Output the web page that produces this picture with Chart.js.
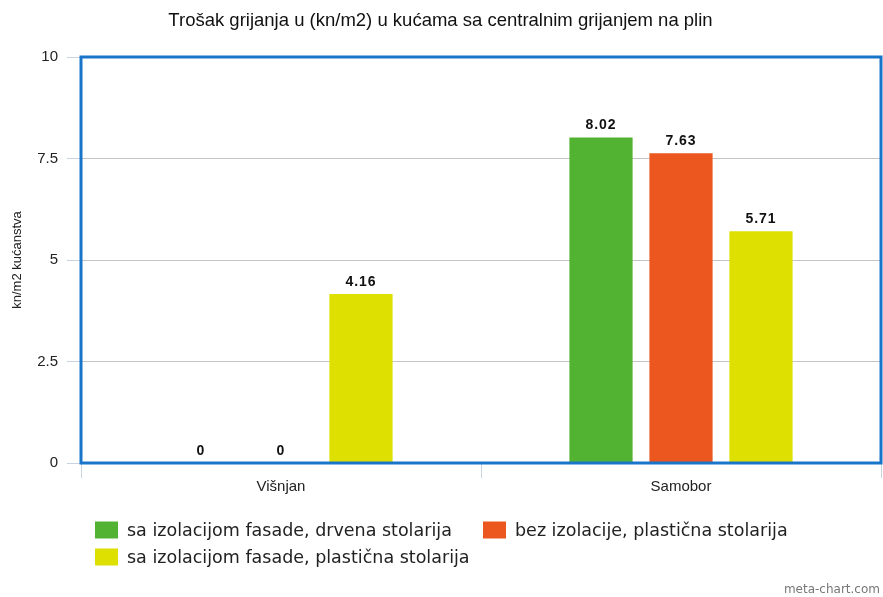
<!DOCTYPE html>
<html>
<head>
<meta charset="utf-8">
<script src="https://cdn.jsdelivr.net/npm/chart.js@4/dist/chart.umd.min.js"></script>
<style>
  html, body { margin: 0; padding: 0; background: #fff; }
  #wrap { width: 883px; height: 597px; }
</style>
</head>
<body>
<div id="wrap"><canvas id="heatChart" width="883" height="597"></canvas></div>
<script>
const categories = ["Višnjan", "Samobor"];
const seriesNames = [
  "sa izolacijom fasade, drvena stolarija",
  "bez izolacije, plastična stolarija",
  "sa izolacijom fasade, plastična stolarija",
];
const woodInsulated = [0, 8.02];
const plasticNoInsulation = [0, 7.63];
const plasticInsulated = [4.16, 5.71];
const yTicks = [0, 2.5, 5, 7.5, 10];

const colors = ["#52b332", "#eb571e", "#dde000"];

// vrijednosti iznad stupaca
const valueLabels = {
  id: "valueLabels",
  afterDatasetsDraw(chart) {
    const ctx = chart.ctx;
    ctx.save();
    ctx.font = "bold 14px 'Liberation Sans', Arial, sans-serif";
    ctx.letterSpacing = "1px";
    ctx.fillStyle = "#111";
    ctx.textAlign = "center";
    ctx.textBaseline = "bottom";
    chart.data.datasets.forEach((ds, i) => {
      chart.getDatasetMeta(i).data.forEach((bar, j) => {
        ctx.fillText(String(ds.data[j]), bar.x, bar.y - 5);
      });
    });
    ctx.restore();
  },
};

// legenda ispod grafa (dva stupca, lijevo poravnato)
const legendSlots = [
  { x: 95, y: 530 },
  { x: 483, y: 530 },
  { x: 95, y: 557 },
];
const bottomLegend = {
  id: "bottomLegend",
  afterDraw(chart) {
    const ctx = chart.ctx;
    ctx.save();
    ctx.font = "17.5px 'DejaVu Sans', sans-serif";
    ctx.textAlign = "left";
    ctx.textBaseline = "middle";
    chart.data.datasets.forEach((ds, i) => {
      const s = legendSlots[i];
      ctx.fillStyle = ds.backgroundColor;
      ctx.fillRect(s.x, s.y - 8.5, 23, 17);
      ctx.fillStyle = "#222";
      ctx.fillText(ds.label, s.x + 32, s.y + 1);
    });
    ctx.restore();
  },
};

// plavi okvir oko grafa + potpis
const frame = {
  id: "frame",
  afterDraw(chart) {
    const { left, top, right, bottom } = chart.chartArea;
    const ctx = chart.ctx;
    ctx.save();
    ctx.strokeStyle = "#1a74c8";
    ctx.lineWidth = 3;
    ctx.strokeRect(left, top, right - left, bottom - top);
    ctx.font = "12px 'DejaVu Sans', sans-serif";
    ctx.fillStyle = "#777";
    ctx.textAlign = "right";
    ctx.textBaseline = "middle";
    ctx.fillText("meta-chart.com", 880, 590);
    ctx.restore();
  },
};

const makeSet = (i, data) => ({
  label: seriesNames[i],
  data: data,
  backgroundColor: colors[i],
  borderWidth: 0,
  categoryPercentage: 0.6,
  barPercentage: 0.79,
});

new Chart(document.getElementById("heatChart"), {
  type: "bar",
  data: {
    labels: categories,
    datasets: [
      makeSet(0, woodInsulated),
      makeSet(1, plasticNoInsulation),
      makeSet(2, plasticInsulated),
    ],
  },
  options: {
    responsive: false,
    animation: false,
    layout: { padding: { left: 0, right: 2, bottom: 94 } },
    plugins: {
      title: {
        display: true,
        text: "Trošak grijanja u (kn/m2) u kućama sa centralnim grijanjem na plin",
        color: "#111",
        font: { family: "'Liberation Sans', Arial, sans-serif", size: 18.5, weight: "normal" },
        padding: { top: 10, bottom: 24.8 },
      },
      legend: { display: false },
      tooltip: { enabled: false },
    },
    scales: {
      x: {
        grid: {
          drawOnChartArea: false,
          drawTicks: true,
          tickLength: 15,
          tickColor: "#c5d3e3",
          offset: true,
        },
        border: { display: false },
        ticks: {
          color: "#222",
          padding: 0,
          font: { family: "'Liberation Sans', Arial, sans-serif", size: 15 },
        },
        afterFit(scale) {
          scale.height = 40;
        },
      },
      y: {
        min: 0,
        max: 10,
        afterBuildTicks(scale) {
          scale.ticks = yTicks.map((v) => ({ value: v }));
        },
        title: {
          display: true,
          text: "kn/m2 kućanstva",
          color: "#222",
          font: { family: "'Liberation Sans', Arial, sans-serif", size: 13 },
          padding: { top: 10, bottom: 4 },
        },
        grid: {
          color: "#c4c4c4",
          tickColor: "#c5d3e3",
          tickLength: 14,
        },
        border: { display: false },
        ticks: {
          color: "#222",
          padding: 9,
          font: { family: "'Liberation Sans', Arial, sans-serif", size: 15 },
        },
        afterFit(scale) {
          scale.width = 81;
        },
      },
    },
  },
  plugins: [valueLabels, bottomLegend, frame],
});
</script>
</body>
</html>
